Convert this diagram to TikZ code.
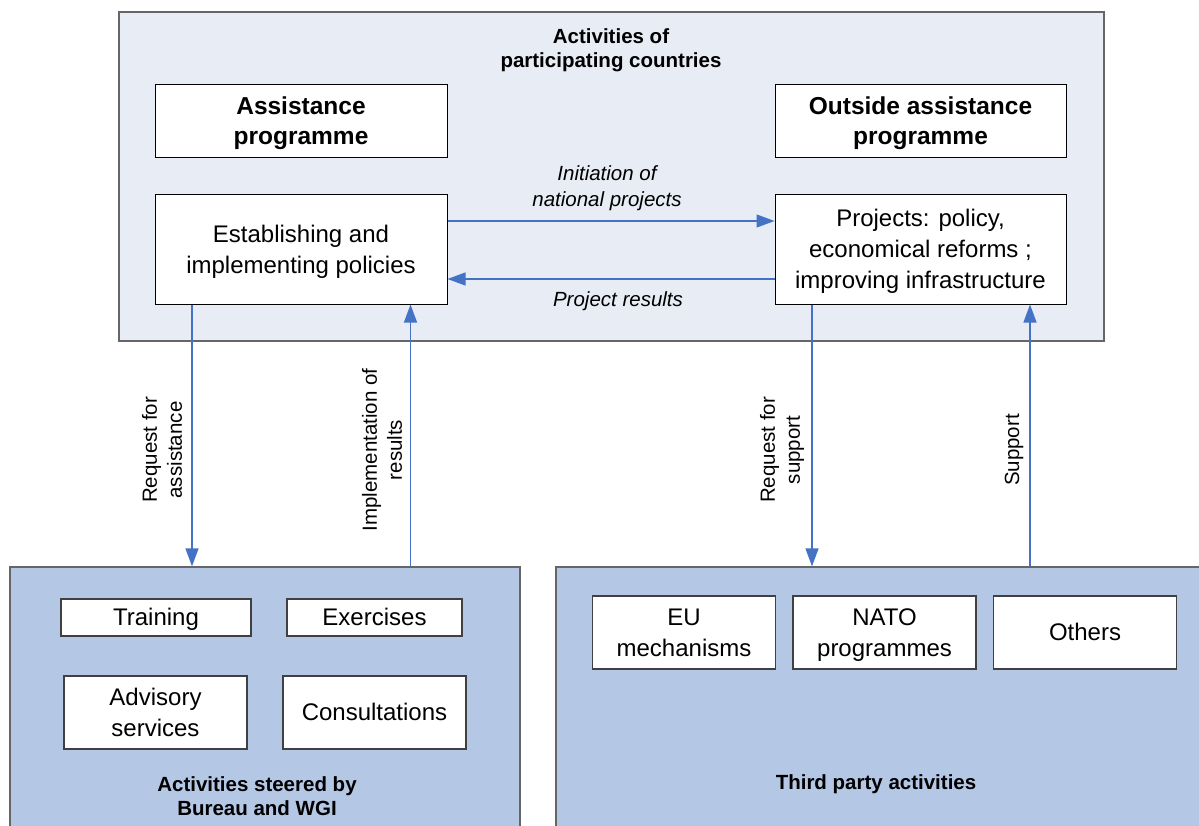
\documentclass[tikz,border=0pt]{standalone}
\usepackage{fontspec}
\setmainfont{Liberation Sans}
\usetikzlibrary{arrows.meta}
\definecolor{topfill}{HTML}{E8ECF5}
\definecolor{botfill}{HTML}{B4C7E5}
\definecolor{contline}{HTML}{666666}
\definecolor{arrblue}{HTML}{4472C4}
\newcommand{\mystrut}{\rule[-5.6pt]{0pt}{27.4pt}}
\tikzset{
  cont/.style={draw=contline, line width=1.3pt, rectangle, inner sep=0pt},
  wbox/.style={draw=black, line width=1pt, fill=white, rectangle, inner sep=0pt, align=center, font=\fontsize{24}{31}\selectfont},
  gbox/.style={draw=black!75, line width=1.3pt, fill=white, rectangle, inner sep=0pt, align=center, font=\fontsize{24}{31}\selectfont},
  ttl/.style={align=center, inner sep=0pt, font=\bfseries\fontsize{20.5}{24.5}\selectfont},
  lbl/.style={align=center, inner sep=0pt, font=\itshape\fontsize{20.5}{26}\selectfont},
  vlbl/.style={align=center, inner sep=0pt, rotate=90, font=\fontsize{20.5}{25}\selectfont},
  arr/.style={draw=arrblue, line width=1.3pt, -{Triangle[length=18pt,width=13pt]}, fill=arrblue}
}
\begin{document}
\begin{tikzpicture}[x=1pt,y=-1pt]
\useasboundingbox (0,0) rectangle (1199,826);
\clip (0,0) rectangle (1199,826);
% containers
\node[cont, fill=topfill, minimum width=985pt, minimum height=329pt] (top) at (611.5,176.5) {};
\node[cont, fill=botfill, minimum width=510pt, minimum height=270pt] (botL) at (265,702) {};
\node[cont, fill=botfill, minimum width=660pt, minimum height=270pt] (botR) at (886,702) {};
% top contents
\node[ttl] (toptitle) at (611,50) {Activities of\\participating countries};
\node[wbox, minimum width=292pt, minimum height=73pt, font=\bfseries\fontsize{24.5}{30}\selectfont] (ap) at (301,121.5) {\mystrut Assistance\\programme\mystrut};
\node[wbox, minimum width=291pt, minimum height=73pt, font=\bfseries\fontsize{24.5}{30}\selectfont] (oap) at (920.5,121.5) {\mystrut Outside assistance\\programme\mystrut};
\node[wbox, minimum width=292pt, minimum height=109pt] (est) at (301,249.5) {\mystrut Establishing and\\implementing policies\mystrut};
\node[wbox, minimum width=291pt, minimum height=109pt] (proj) at (920.5,249.5) {\mystrut Projects: policy,\\economical reforms ;\\improving infrastructure\mystrut};
% horizontal arrows
\draw[arr] ([yshift=28.5pt]est.east) -- ([yshift=28.5pt]proj.west);
\draw[arr] ([yshift=-29.5pt]proj.west) -- ([yshift=-29.5pt]est.east);
\node[lbl] (l1) at (607,188) {Initiation of\\national projects};
\node[lbl] (l2) at (618,301) {Project results};
% vertical arrows
\draw[arr] ([xshift=-109pt]est.south) -- ([xshift=-109pt]est.south |- botL.north);
\draw[arr] ([xshift=109.5pt]est.south |- botL.north) -- ([xshift=109.5pt]est.south);
\draw[arr] ([xshift=-108.5pt]proj.south) -- ([xshift=-108.5pt]proj.south |- botR.north);
\draw[arr] ([xshift=109.5pt]proj.south |- botR.north) -- ([xshift=109.5pt]proj.south);
\node[vlbl] (v1) at (162,450) {Request for\\assistance};
\node[vlbl] (v2) at (382,450) {Implementation of\\results};
\node[vlbl] (v3) at (782,450) {Request for\\support};
\node[vlbl] (v4) at (1014,450) {Support};
% bottom left contents
\node[gbox, minimum width=190pt, minimum height=37pt] (tr) at (156,617.5) {\mystrut Training};
\node[gbox, minimum width=175pt, minimum height=37pt] (ex) at (374.5,617.5) {\mystrut Exercises};
\node[gbox, minimum width=183pt, minimum height=73pt] (adv) at (155.5,712.5) {\mystrut Advisory\\services\mystrut};
\node[gbox, minimum width=183pt, minimum height=73pt] (con) at (374.5,712.5) {\mystrut Consultations};
\node[ttl] (bltitle) at (257,796) {Activities steered by\\Bureau and WGI};
% bottom right contents
\node[gbox, minimum width=183pt, minimum height=73pt] (eu) at (684,632.5) {\mystrut EU\\mechanisms\mystrut};
\node[gbox, minimum width=183pt, minimum height=73pt] (nato) at (884.5,632.5) {\mystrut NATO\\programmes\mystrut};
\node[gbox, minimum width=183pt, minimum height=73pt] (oth) at (1085,632.5) {\mystrut Others};
\node[ttl] (brtitle) at (876,784) {Third party activities};
\end{tikzpicture}
\end{document}
